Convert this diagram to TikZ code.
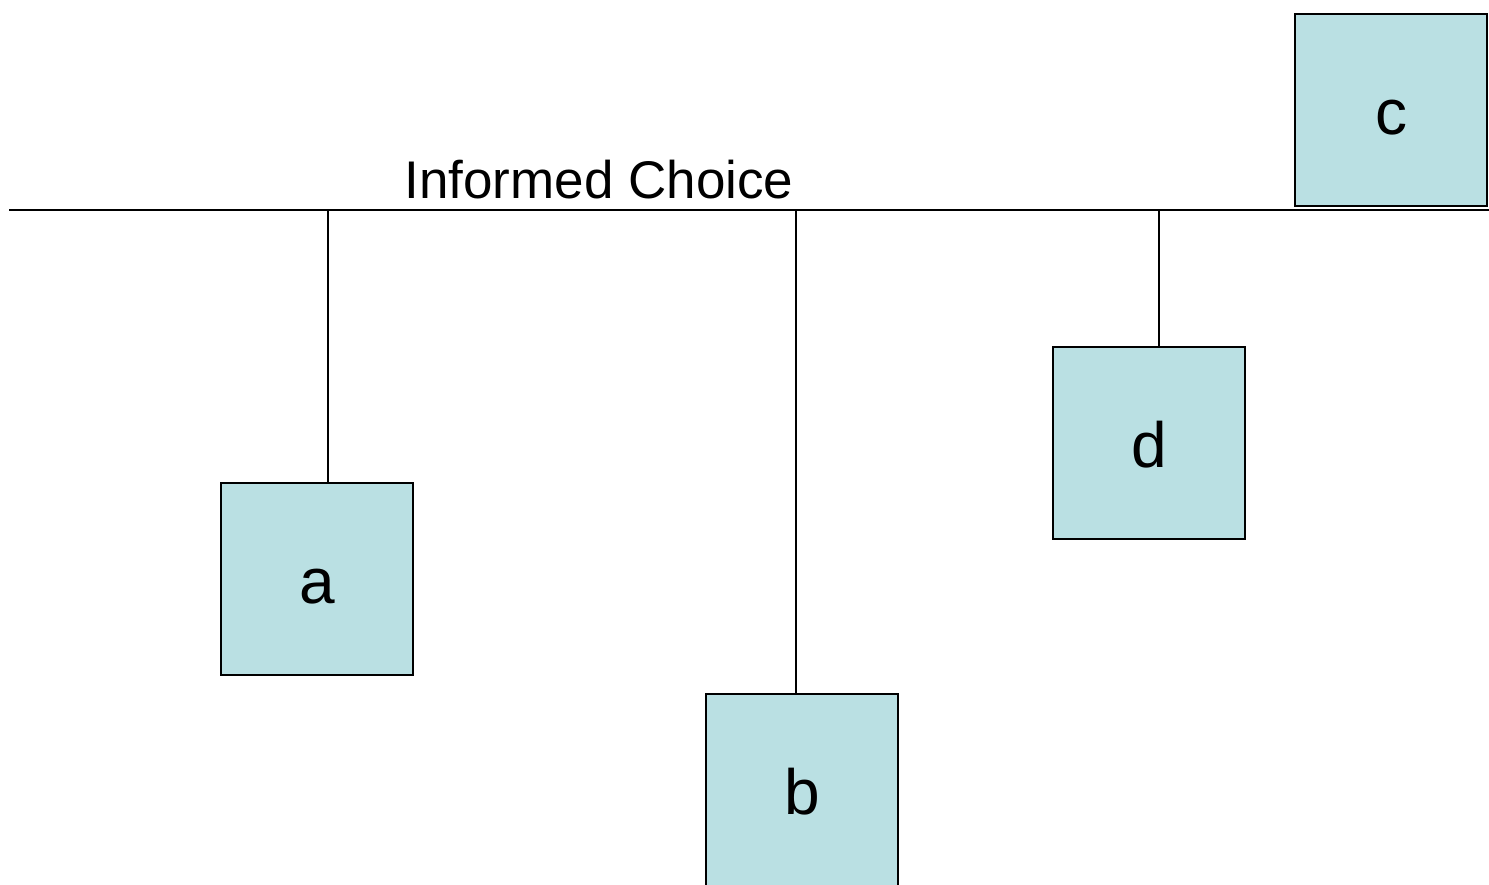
\documentclass[tikz,border=0pt]{standalone}
\usepackage{fontspec}
\setmainfont{Liberation Sans}
\definecolor{boxfill}{RGB}{186,224,227}
\begin{document}
\begin{tikzpicture}[x=1pt,y=-1pt,
  box/.style={draw=black,line width=1.5pt,fill=boxfill,minimum size=192pt,inner sep=0pt,
    text height=48pt,text depth=0pt,font=\fontsize{64}{64}\selectfont},
  wire/.style={draw=black,line width=1.5pt}]
\useasboundingbox (0,0) rectangle (1489,884);
\clip (0,0) rectangle (1489,884);
\coordinate (L) at (9,210);
\coordinate (R) at (1489,210);
\draw[wire] (L) -- (R);
\node[anchor=base,font=\fontsize{53}{53}\selectfont,inner sep=0pt] (title) at (599,198) {Informed Choice};
\node[box] (a) at (317,579) {a};
\node[box] (b) at (802,790) {b};
\node[box] (c) at (1391,110) {c};
\node[box] (d) at (1149,443) {d};
\coordinate (ta) at (328,210);
\coordinate (tb) at (796,210);
\coordinate (td) at (1159,210);
\draw[wire] (ta) -- (ta |- a.north);
\draw[wire] (tb) -- (tb |- b.north);
\draw[wire] (td) -- (td |- d.north);
\end{tikzpicture}
\end{document}
